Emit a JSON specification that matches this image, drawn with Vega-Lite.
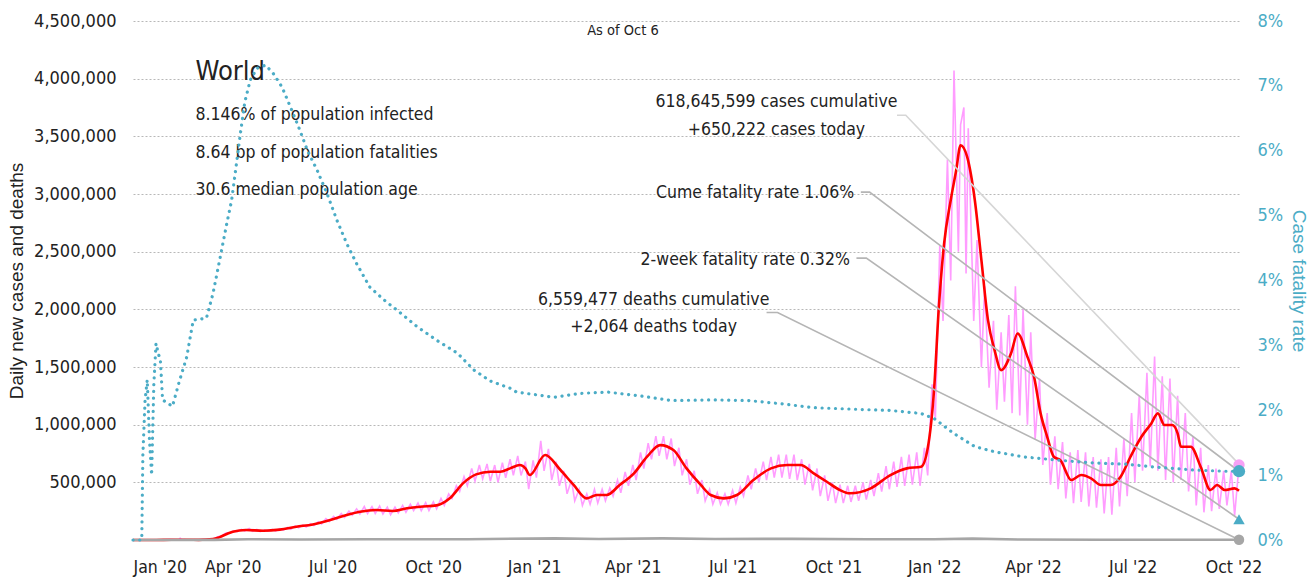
{
"$schema":"https://vega.github.io/schema/vega-lite/v6.json",
"width":1106,"height":519,
"autosize":{"type":"none"},
"padding":{"left":133,"top":21,"right":74,"bottom":42},
"background":"white",
"config":{"view":{"stroke":null},"font":"DejaVu Sans Condensed, Roboto, sans-serif","text":{"font":"DejaVu Sans Condensed, Roboto, sans-serif","color":"#222"}},
"datasets":{
"pink":[
{"d":"2020-01-01","v":0},{"d":"2020-01-22","v":500},{"d":"2020-01-29","v":2000},{"d":"2020-02-04","v":3500},{"d":"2020-02-12","v":2000},{"d":"2020-02-13","v":15000},{"d":"2020-02-14","v":5000},{"d":"2020-02-20","v":1000},
{"d":"2020-03-01","v":2000},{"d":"2020-03-05","v":3000},{"d":"2020-03-08","v":4000},{"d":"2020-03-12","v":8000},{"d":"2020-03-15","v":12000},{"d":"2020-03-19","v":30000},{"d":"2020-03-22","v":35000},{"d":"2020-03-26","v":62000},{"d":"2020-03-29","v":62000},{"d":"2020-04-02","v":80000},{"d":"2020-04-05","v":72000},{"d":"2020-04-09","v":92000},{"d":"2020-04-12","v":78000},{"d":"2020-04-16","v":100000},{"d":"2020-04-19","v":76000},{"d":"2020-04-23","v":92000},{"d":"2020-04-26","v":72000},{"d":"2020-04-30","v":88000},
{"d":"2020-05-03","v":76000},{"d":"2020-05-07","v":92000},{"d":"2020-05-10","v":78000},{"d":"2020-05-14","v":98000},{"d":"2020-05-17","v":85000},{"d":"2020-05-21","v":108000},{"d":"2020-05-24","v":92000},{"d":"2020-05-28","v":122000},{"d":"2020-05-31","v":105000},{"d":"2020-06-04","v":130000},{"d":"2020-06-07","v":112000},{"d":"2020-06-11","v":142000},{"d":"2020-06-14","v":125000},{"d":"2020-06-18","v":158000},{"d":"2020-06-21","v":140000},{"d":"2020-06-25","v":185000},{"d":"2020-06-28","v":160000},{"d":"2020-07-02","v":205000},{"d":"2020-07-05","v":180000},{"d":"2020-07-09","v":230000},{"d":"2020-07-12","v":195000},{"d":"2020-07-16","v":250000},{"d":"2020-07-19","v":215000},{"d":"2020-07-23","v":270000},{"d":"2020-07-26","v":225000},{"d":"2020-07-30","v":290000},
{"d":"2020-08-02","v":230000},{"d":"2020-08-06","v":290000},{"d":"2020-08-09","v":230000},{"d":"2020-08-13","v":295000},{"d":"2020-08-16","v":225000},{"d":"2020-08-20","v":285000},{"d":"2020-08-23","v":220000},{"d":"2020-08-27","v":285000},{"d":"2020-08-30","v":235000},{"d":"2020-09-03","v":300000},{"d":"2020-09-06","v":240000},{"d":"2020-09-10","v":310000},{"d":"2020-09-13","v":255000},{"d":"2020-09-17","v":320000},{"d":"2020-09-20","v":255000},{"d":"2020-09-24","v":325000},{"d":"2020-09-27","v":255000},{"d":"2020-10-01","v":330000},{"d":"2020-10-04","v":270000},{"d":"2020-10-08","v":360000},{"d":"2020-10-11","v":300000},{"d":"2020-10-15","v":400000},{"d":"2020-10-18","v":360000},{"d":"2020-10-22","v":470000},{"d":"2020-10-25","v":420000},{"d":"2020-10-29","v":550000},
{"d":"2020-11-01","v":470000},{"d":"2020-11-05","v":620000},{"d":"2020-11-08","v":510000},{"d":"2020-11-12","v":650000},{"d":"2020-11-15","v":530000},{"d":"2020-11-19","v":660000},{"d":"2020-11-22","v":510000},{"d":"2020-11-26","v":650000},{"d":"2020-11-29","v":500000},{"d":"2020-12-03","v":670000},{"d":"2020-12-06","v":540000},{"d":"2020-12-10","v":700000},{"d":"2020-12-13","v":560000},{"d":"2020-12-17","v":730000},{"d":"2020-12-20","v":560000},{"d":"2020-12-24","v":680000},{"d":"2020-12-27","v":440000},{"d":"2020-12-31","v":690000},
{"d":"2021-01-03","v":540000},{"d":"2021-01-07","v":860000},{"d":"2021-01-10","v":600000},{"d":"2021-01-14","v":790000},{"d":"2021-01-17","v":520000},{"d":"2021-01-21","v":680000},{"d":"2021-01-24","v":470000},{"d":"2021-01-28","v":600000},{"d":"2021-01-31","v":400000},{"d":"2021-02-04","v":520000},{"d":"2021-02-07","v":340000},{"d":"2021-02-11","v":440000},{"d":"2021-02-14","v":300000},{"d":"2021-02-18","v":400000},{"d":"2021-02-21","v":310000},{"d":"2021-02-25","v":440000},{"d":"2021-02-28","v":320000},{"d":"2021-03-04","v":440000},{"d":"2021-03-07","v":340000},{"d":"2021-03-11","v":450000},{"d":"2021-03-14","v":380000},{"d":"2021-03-18","v":520000},{"d":"2021-03-21","v":410000},{"d":"2021-03-25","v":590000},{"d":"2021-03-28","v":470000},{"d":"2021-04-01","v":650000},{"d":"2021-04-04","v":520000},{"d":"2021-04-08","v":760000},{"d":"2021-04-11","v":620000},{"d":"2021-04-15","v":840000},{"d":"2021-04-18","v":700000},{"d":"2021-04-22","v":900000},{"d":"2021-04-25","v":730000},{"d":"2021-04-29","v":900000},
{"d":"2021-05-02","v":700000},{"d":"2021-05-06","v":880000},{"d":"2021-05-09","v":640000},{"d":"2021-05-13","v":800000},{"d":"2021-05-16","v":560000},{"d":"2021-05-20","v":700000},{"d":"2021-05-23","v":480000},{"d":"2021-05-27","v":600000},{"d":"2021-05-30","v":400000},{"d":"2021-06-03","v":520000},{"d":"2021-06-06","v":340000},{"d":"2021-06-10","v":440000},{"d":"2021-06-13","v":310000},{"d":"2021-06-17","v":410000},{"d":"2021-06-20","v":310000},{"d":"2021-06-24","v":400000},{"d":"2021-06-27","v":310000},{"d":"2021-07-01","v":430000},{"d":"2021-07-04","v":320000},{"d":"2021-07-08","v":460000},{"d":"2021-07-11","v":380000},{"d":"2021-07-15","v":560000},{"d":"2021-07-18","v":440000},{"d":"2021-07-22","v":620000},{"d":"2021-07-25","v":500000},{"d":"2021-07-29","v":680000},
{"d":"2021-08-01","v":520000},{"d":"2021-08-05","v":720000},{"d":"2021-08-08","v":540000},{"d":"2021-08-12","v":740000},{"d":"2021-08-15","v":540000},{"d":"2021-08-19","v":740000},{"d":"2021-08-22","v":530000},{"d":"2021-08-26","v":740000},{"d":"2021-08-29","v":520000},{"d":"2021-09-02","v":700000},{"d":"2021-09-05","v":480000},{"d":"2021-09-09","v":660000},{"d":"2021-09-12","v":430000},{"d":"2021-09-16","v":620000},{"d":"2021-09-19","v":380000},{"d":"2021-09-23","v":560000},{"d":"2021-09-26","v":340000},{"d":"2021-09-30","v":500000},{"d":"2021-10-03","v":320000},{"d":"2021-10-07","v":480000},{"d":"2021-10-10","v":320000},{"d":"2021-10-14","v":470000},{"d":"2021-10-17","v":330000},{"d":"2021-10-21","v":470000},{"d":"2021-10-24","v":340000},{"d":"2021-10-28","v":500000},{"d":"2021-10-31","v":350000},
{"d":"2021-11-04","v":520000},{"d":"2021-11-07","v":380000},{"d":"2021-11-11","v":580000},{"d":"2021-11-14","v":420000},{"d":"2021-11-18","v":640000},{"d":"2021-11-21","v":440000},{"d":"2021-11-25","v":680000},{"d":"2021-11-28","v":460000},{"d":"2021-12-02","v":720000},{"d":"2021-12-05","v":470000},{"d":"2021-12-09","v":740000},{"d":"2021-12-12","v":480000},{"d":"2021-12-16","v":760000},{"d":"2021-12-19","v":470000},{"d":"2021-12-23","v":800000},{"d":"2021-12-26","v":560000},{"d":"2021-12-30","v":1350000},
{"d":"2022-01-02","v":1050000},{"d":"2022-01-06","v":2550000},{"d":"2022-01-09","v":1900000},{"d":"2022-01-13","v":3300000},{"d":"2022-01-16","v":2250000},{"d":"2022-01-19","v":4070000},{"d":"2022-01-20","v":3700000},{"d":"2022-01-23","v":2500000},{"d":"2022-01-25","v":3600000},{"d":"2022-01-28","v":3750000},{"d":"2022-01-30","v":2310000},{"d":"2022-02-01","v":3570000},{"d":"2022-02-06","v":1900000},{"d":"2022-02-09","v":2600000},{"d":"2022-02-13","v":1500000},{"d":"2022-02-16","v":2200000},{"d":"2022-02-20","v":1320000},{"d":"2022-02-24","v":1900000},{"d":"2022-02-27","v":1130000},{"d":"2022-03-03","v":1800000},{"d":"2022-03-06","v":1200000},{"d":"2022-03-10","v":1950000},{"d":"2022-03-13","v":1100000},{"d":"2022-03-16","v":2200000},{"d":"2022-03-20","v":1080000},{"d":"2022-03-23","v":2000000},{"d":"2022-03-27","v":1000000},{"d":"2022-03-30","v":1800000},
{"d":"2022-04-03","v":870000},{"d":"2022-04-07","v":1400000},{"d":"2022-04-10","v":650000},{"d":"2022-04-14","v":1100000},{"d":"2022-04-17","v":480000},{"d":"2022-04-21","v":900000},{"d":"2022-04-24","v":440000},{"d":"2022-04-28","v":850000},{"d":"2022-05-01","v":360000},{"d":"2022-05-05","v":760000},{"d":"2022-05-08","v":320000},{"d":"2022-05-12","v":780000},{"d":"2022-05-15","v":330000},{"d":"2022-05-19","v":760000},{"d":"2022-05-22","v":290000},{"d":"2022-05-26","v":720000},{"d":"2022-05-29","v":280000},{"d":"2022-06-02","v":700000},{"d":"2022-06-05","v":230000},{"d":"2022-06-09","v":720000},{"d":"2022-06-12","v":220000},{"d":"2022-06-16","v":800000},{"d":"2022-06-19","v":290000},{"d":"2022-06-23","v":880000},{"d":"2022-06-26","v":380000},{"d":"2022-06-30","v":1100000},
{"d":"2022-07-03","v":500000},{"d":"2022-07-07","v":1250000},{"d":"2022-07-10","v":600000},{"d":"2022-07-14","v":1450000},{"d":"2022-07-17","v":640000},{"d":"2022-07-21","v":1590000},{"d":"2022-07-24","v":600000},{"d":"2022-07-28","v":1420000},{"d":"2022-07-31","v":520000},{"d":"2022-08-04","v":1400000},{"d":"2022-08-07","v":500000},{"d":"2022-08-11","v":1250000},{"d":"2022-08-14","v":520000},{"d":"2022-08-18","v":1100000},{"d":"2022-08-21","v":420000},{"d":"2022-08-25","v":900000},{"d":"2022-08-28","v":300000},{"d":"2022-09-01","v":800000},{"d":"2022-09-04","v":240000},{"d":"2022-09-08","v":650000},{"d":"2022-09-11","v":250000},{"d":"2022-09-15","v":620000},{"d":"2022-09-18","v":270000},{"d":"2022-09-22","v":600000},{"d":"2022-09-25","v":300000},{"d":"2022-09-29","v":600000},{"d":"2022-10-02","v":210000},{"d":"2022-10-06","v":650222}
],
"red":[
{"d":"2020-01-01","v":0},{"d":"2020-01-22","v":100},{"d":"2020-02-05","v":2500},{"d":"2020-02-20","v":2500},{"d":"2020-03-01","v":1500},{"d":"2020-03-14","v":8000},{"d":"2020-03-20","v":25000},{"d":"2020-03-26","v":50000},{"d":"2020-04-01","v":72000},{"d":"2020-04-13","v":87000},{"d":"2020-04-29","v":80000},{"d":"2020-05-14","v":90000},{"d":"2020-05-29","v":115000},{"d":"2020-06-13","v":135000},{"d":"2020-06-29","v":173000},{"d":"2020-07-14","v":217000},{"d":"2020-07-26","v":245000},{"d":"2020-08-10","v":260000},{"d":"2020-08-25","v":252000},{"d":"2020-09-07","v":275000},{"d":"2020-09-19","v":289000},{"d":"2020-10-04","v":300000},{"d":"2020-10-16","v":361000},{"d":"2020-10-28","v":491000},{"d":"2020-11-09","v":569000},{"d":"2020-11-22","v":592000},{"d":"2020-12-01","v":592000},{"d":"2020-12-10","v":621000},{"d":"2020-12-19","v":650000},{"d":"2020-12-24","v":621000},{"d":"2020-12-28","v":563000},
{"d":"2021-01-11","v":737000},{"d":"2021-01-25","v":607000},{"d":"2021-02-06","v":477000},{"d":"2021-02-18","v":361000},{"d":"2021-02-27","v":390000},{"d":"2021-03-08","v":390000},{"d":"2021-03-20","v":477000},{"d":"2021-04-02","v":578000},{"d":"2021-04-14","v":722000},{"d":"2021-04-26","v":823000},{"d":"2021-05-08","v":780000},{"d":"2021-05-20","v":621000},{"d":"2021-06-02","v":477000},{"d":"2021-06-11","v":390000},{"d":"2021-06-23","v":361000},{"d":"2021-07-05","v":390000},{"d":"2021-07-20","v":520000},{"d":"2021-08-05","v":621000},{"d":"2021-08-20","v":650000},{"d":"2021-09-01","v":650000},{"d":"2021-09-13","v":578000},{"d":"2021-09-25","v":505000},{"d":"2021-10-07","v":433000},{"d":"2021-10-16","v":405000},{"d":"2021-11-04","v":448000},{"d":"2021-11-22","v":563000},{"d":"2021-12-07","v":621000},{"d":"2021-12-20","v":635000},{"d":"2021-12-26","v":795000},
{"d":"2022-01-01","v":1329000},{"d":"2022-01-05","v":1993000},{"d":"2022-01-10","v":2571000},{"d":"2022-01-16","v":2946000},{"d":"2022-01-21","v":3206000},{"d":"2022-01-25","v":3423000},{"d":"2022-01-31","v":3322000},{"d":"2022-02-07","v":2946000},{"d":"2022-02-13","v":2426000},{"d":"2022-02-19","v":1906000},{"d":"2022-02-25","v":1647000},{"d":"2022-03-03","v":1473000},{"d":"2022-03-12","v":1618000},{"d":"2022-03-18","v":1791000},{"d":"2022-03-27","v":1588000},{"d":"2022-04-02","v":1415000},{"d":"2022-04-08","v":1098000},{"d":"2022-04-14","v":895000},{"d":"2022-04-20","v":722000},{"d":"2022-04-26","v":693000},{"d":"2022-05-06","v":520000},{"d":"2022-05-15","v":563000},{"d":"2022-05-24","v":535000},{"d":"2022-06-02","v":477000},{"d":"2022-06-11","v":477000},{"d":"2022-06-20","v":549000},{"d":"2022-06-29","v":722000},{"d":"2022-07-09","v":895000},{"d":"2022-07-18","v":1011000},{"d":"2022-07-24","v":1098000},{"d":"2022-07-30","v":997000},{"d":"2022-08-06","v":997000},{"d":"2022-08-11","v":925000},{"d":"2022-08-14","v":809000},{"d":"2022-08-23","v":809000},{"d":"2022-09-01","v":635000},{"d":"2022-09-10","v":433000},{"d":"2022-09-16","v":477000},{"d":"2022-09-23","v":433000},{"d":"2022-10-02","v":448000},{"d":"2022-10-06","v":427000}
],
"deaths":[
{"d":"2020-01-01","v":0},{"d":"2020-03-15","v":1000},{"d":"2020-04-15","v":7000},{"d":"2020-06-01","v":4500},{"d":"2020-08-01","v":6000},{"d":"2020-11-01","v":7000},{"d":"2021-01-20","v":14000},{"d":"2021-03-01","v":9000},{"d":"2021-04-28","v":14000},{"d":"2021-06-15","v":9000},{"d":"2021-08-25","v":10000},{"d":"2021-11-01","v":7000},{"d":"2022-01-01","v":6000},{"d":"2022-02-05","v":12000},{"d":"2022-03-20","v":4000},{"d":"2022-06-01","v":2000},{"d":"2022-10-06","v":2064}
],
"cfr":[
{"d":"2020-01-01","v":0},{"d":"2020-01-09","v":0},{"d":"2020-01-10","v":0.0131},{"d":"2020-01-12","v":0.0215},{"d":"2020-01-14","v":0.0247},{"d":"2020-01-16","v":0.0155},{"d":"2020-01-18","v":0.010},{"d":"2020-01-20","v":0.024},{"d":"2020-01-22","v":0.0303},{"d":"2020-01-24","v":0.0288},{"d":"2020-01-26","v":0.0277},{"d":"2020-01-28","v":0.0216},{"d":"2020-02-06","v":0.0206},{"d":"2020-02-12","v":0.0243},{"d":"2020-02-19","v":0.0282},{"d":"2020-02-25","v":0.0339},{"d":"2020-03-08","v":0.0342},{"d":"2020-03-14","v":0.0380},{"d":"2020-03-20","v":0.0431},{"d":"2020-03-26","v":0.0483},{"d":"2020-03-31","v":0.0524},{"d":"2020-04-04","v":0.0575},{"d":"2020-04-08","v":0.0627},{"d":"2020-04-12","v":0.0675},{"d":"2020-04-17","v":0.0709},{"d":"2020-04-23","v":0.0727},{"d":"2020-05-01","v":0.0732},{"d":"2020-05-08","v":0.0719},{"d":"2020-05-16","v":0.0698},{"d":"2020-05-23","v":0.0670},{"d":"2020-05-31","v":0.0637},{"d":"2020-06-08","v":0.0601},{"d":"2020-06-17","v":0.0570},{"d":"2020-06-26","v":0.0534},{"d":"2020-07-05","v":0.0493},{"d":"2020-07-14","v":0.0457},{"d":"2020-07-23","v":0.0426},{"d":"2020-08-04","v":0.0390},{"d":"2020-08-17","v":0.0370},{"d":"2020-08-29","v":0.0354},{"d":"2020-09-16","v":0.0329},{"d":"2020-10-04","v":0.0308},{"d":"2020-10-23","v":0.0288},{"d":"2020-11-07","v":0.0262},{"d":"2020-11-22","v":0.0245},{"d":"2020-12-10","v":0.0234},{"d":"2020-12-16","v":0.0228},
{"d":"2021-01-19","v":0.0220},{"d":"2021-02-12","v":0.0226},{"d":"2021-03-09","v":0.0228},{"d":"2021-04-08","v":0.0222},{"d":"2021-05-06","v":0.0215},{"d":"2021-06-14","v":0.0216},{"d":"2021-07-15","v":0.0215},{"d":"2021-08-14","v":0.0210},{"d":"2021-09-13","v":0.0204},{"d":"2021-10-29","v":0.0201},{"d":"2021-11-20","v":0.0200},{"d":"2021-12-20","v":0.0195},{"d":"2022-01-01","v":0.0187},{"d":"2022-01-19","v":0.0164},{"d":"2022-02-07","v":0.0144},{"d":"2022-02-25","v":0.0136},{"d":"2022-03-24","v":0.0128},{"d":"2022-04-24","v":0.0123},{"d":"2022-05-25","v":0.0119},{"d":"2022-06-24","v":0.0117},{"d":"2022-07-24","v":0.0112},{"d":"2022-08-24","v":0.0108},{"d":"2022-09-23","v":0.0106},{"d":"2022-10-06","v":0.0106}
]
},
"encoding":{"x":{"field":"d","type":"temporal","title":null,
 "scale":{"type":"utc","domain":[{"year":2020,"month":1,"date":1,"utc":true},{"year":2022,"month":10,"date":6,"utc":true}]},
 "axis":{"values":[{"year":2020,"month":1,"date":1,"utc":true},{"year":2020,"month":4,"date":1,"utc":true},{"year":2020,"month":7,"date":1,"utc":true},{"year":2020,"month":10,"date":1,"utc":true},{"year":2021,"month":1,"date":1,"utc":true},{"year":2021,"month":4,"date":1,"utc":true},{"year":2021,"month":7,"date":1,"utc":true},{"year":2021,"month":10,"date":1,"utc":true},{"year":2022,"month":1,"date":1,"utc":true},{"year":2022,"month":4,"date":1,"utc":true},{"year":2022,"month":7,"date":1,"utc":true},{"year":2022,"month":10,"date":1,"utc":true}],
 "labelExpr":"utcFormat(datum.value, '%b') + \" '\" + utcFormat(datum.value, '%y')","grid":false,"ticks":false,"domain":false,"labelFontSize":17.5,"labelColor":"#222","labelPadding":18,"labelOverlap":false,"labelBound":false}}},
"layer":[
{"encoding":{"y":{"field":"v","type":"quantitative","scale":{"domain":[0,4500000],"nice":false,"zero":true},
 "axis":{"values":[500000,1000000,1500000,2000000,2500000,3000000,3500000,4000000,4500000],"format":",d","grid":true,"gridDash":[2,2],"gridColor":"#b8b8b8","gridWidth":1,"ticks":false,"domain":false,"labelFontSize":18,"labelColor":"#222","labelPadding":17,"title":"Daily new cases and deaths","titleFont":"Liberation Sans","titleFontSize":19,"titleFontWeight":"normal","titleColor":"#222","titlePadding":7}}},
 "layer":[
  {"data":{"name":"pink"},"mark":{"type":"line","color":"#ff9cff","strokeWidth":1.6}},
  {"data":{"name":"red"},"mark":{"type":"line","color":"#ff0000","strokeWidth":2.6,"interpolate":"monotone"}},
  {"data":{"name":"deaths"},"mark":{"type":"line","color":"#a6a6a6","strokeWidth":2.6}},
  {"data":{"values":[{"d":"2021-11-28","v":3683000},{"d":"2021-12-06","v":3683000},{"d":"2022-10-06","v":658000}]},"mark":{"type":"line","color":"#d6d6d6","strokeWidth":1.6}},
  {"data":{"values":[{"g":"b","d":"2021-10-26","v":3016000},{"g":"b","d":"2021-11-03","v":3016000},{"g":"b","d":"2022-10-06","v":596000},{"g":"c","d":"2021-10-22","v":2444000},{"g":"c","d":"2021-10-31","v":2444000},{"g":"c","d":"2022-10-06","v":180000},{"g":"e","d":"2021-08-01","v":1973000},{"g":"e","d":"2021-08-11","v":1973000},{"g":"e","d":"2022-10-06","v":2064}]},"mark":{"type":"line","color":"#b5b5b5","strokeWidth":1.6},"encoding":{"detail":{"field":"g"}}},
  {"data":{"values":[{"d":"2022-10-06","v":650222}]},"mark":{"type":"point","shape":"circle","filled":true,"opacity":1,"size":130,"color":"#f7a1f5"}},
  {"data":{"values":[{"d":"2022-10-06","v":2064}]},"mark":{"type":"point","shape":"circle","filled":true,"opacity":1,"size":110,"color":"#a6a6a6"}},
  {"data":{"values":[{"d":"2020-02-27","v":4056000,"t":"World"}]},"mark":{"type":"text","align":"left","baseline":"middle","fontSize":27},"encoding":{"text":{"field":"t"}}},
  {"data":{"values":[{"d":"2020-02-27","v":3683000,"t":"8.146% of population infected"},{"d":"2020-02-27","v":3354000,"t":"8.64 bp of population fatalities"},{"d":"2020-02-27","v":3033000,"t":"30.6 median population age"}]},"mark":{"type":"text","align":"left","baseline":"middle","fontSize":17.5},"encoding":{"text":{"field":"t"}}},
  {"data":{"values":[{"d":"2021-03-23","v":4411000,"t":"As of Oct 6"}]},"mark":{"type":"text","align":"center","baseline":"middle","fontSize":14.5},"encoding":{"text":{"field":"t"}}},
  {"data":{"values":[{"d":"2021-08-10","v":3796000,"t":"618,645,599 cases cumulative"},{"d":"2021-08-10","v":3553000,"t":"+650,222 cases today"},{"d":"2021-04-20","v":2080000,"t":"6,559,477 deaths cumulative"},{"d":"2021-04-20","v":1846000,"t":"+2,064 deaths today"}]},"mark":{"type":"text","align":"center","baseline":"middle","fontSize":17.5},"encoding":{"text":{"field":"t"}}},
  {"data":{"values":[{"d":"2021-10-20","v":3007000,"t":"Cume fatality rate 1.06%"},{"d":"2021-10-16","v":2427000,"t":"2-week fatality rate 0.32%"}]},"mark":{"type":"text","align":"right","baseline":"middle","fontSize":17.5},"encoding":{"text":{"field":"t"}}}
 ]},
{"encoding":{"y":{"field":"v","type":"quantitative","scale":{"domain":[0,0.08],"nice":false},
 "axis":{"orient":"right","values":[0,0.01,0.02,0.03,0.04,0.05,0.06,0.07,0.08],"format":".0%","grid":false,"ticks":false,"domain":false,"labelFontSize":18,"labelColor":"#4bacc6","labelPadding":18,"title":"Case fatality rate","titleFont":"Liberation Sans","titleFontSize":19,"titleFontWeight":"normal","titleColor":"#4bacc6","titlePadding":6}}},
 "layer":[
  {"data":{"name":"cfr"},"mark":{"type":"line","color":"#4bacc6","strokeWidth":3.2,"strokeDash":[0.1,6.6],"strokeCap":"round"}},
  {"data":{"values":[{"d":"2022-10-06","v":0.0106}]},"mark":{"type":"point","shape":"circle","filled":true,"opacity":1,"size":150,"color":"#4bacc6"}},
  {"data":{"values":[{"d":"2022-10-06","v":0.0032}]},"mark":{"type":"point","shape":"triangle-up","filled":true,"opacity":1,"size":130,"color":"#4bacc6"}}
 ]}
],
"resolve":{"scale":{"y":"independent"},"axis":{"y":"independent"}}
}
